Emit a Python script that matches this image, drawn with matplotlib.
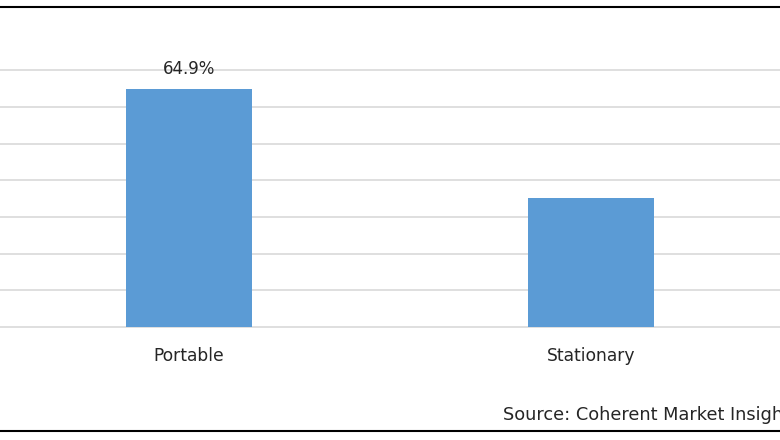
import matplotlib
matplotlib.use("Agg")
from matplotlib import pyplot as plt
from matplotlib.lines import Line2D

categories = ['Portable', 'Stationary']
shares = [64.9, 35.1]
value_labels = ['64.9%', '']
grid_values = [10, 20, 30, 40, 50, 60, 70]
source_text = 'Source: Coherent Market Insights'

bar_color = '#5B9BD5'
grid_color = '#D9D9D9'

plt.rcParams['font.family'] = ['DejaVu Sans']

fig = plt.figure(figsize=(7.8, 4.4), dpi=100)
ax = fig.add_axes([0, 0, 1, 1])

# axis limits chosen so the picture is cropped like the original
ax.set_xlim(-0.470, 1.470)
ax.set_ylim(-30.8, 89.2)

for v in [0] + grid_values:
    ax.axhline(v, color=grid_color, lw=1.2, zorder=1)

x = list(range(len(categories)))
ax.bar(x, shares, width=0.313, color=bar_color, zorder=2)

for xi, name, val, lab in zip(x, categories, shares, value_labels):
    ax.text(xi, -7.8, name, ha='center', va='center', fontsize=12.3, color='#262626')
    if lab:
        ax.text(xi, val + 5.4, lab, ha='center', va='center', fontsize=12, color='#262626')

ax.axis('off')

# outer frame lines (top and bottom)
fig.add_artist(Line2D([0, 1], [1 - 7 / 440, 1 - 7 / 440], color='black', lw=1.5))
fig.add_artist(Line2D([0, 1], [1 - 431 / 440, 1 - 431 / 440], color='black', lw=1.5))

fig.text(503 / 780, 1 - 415 / 440, source_text, ha='left', va='center',
         fontsize=12.8, color='#262626')

fig.savefig('out.png', dpi=100)
